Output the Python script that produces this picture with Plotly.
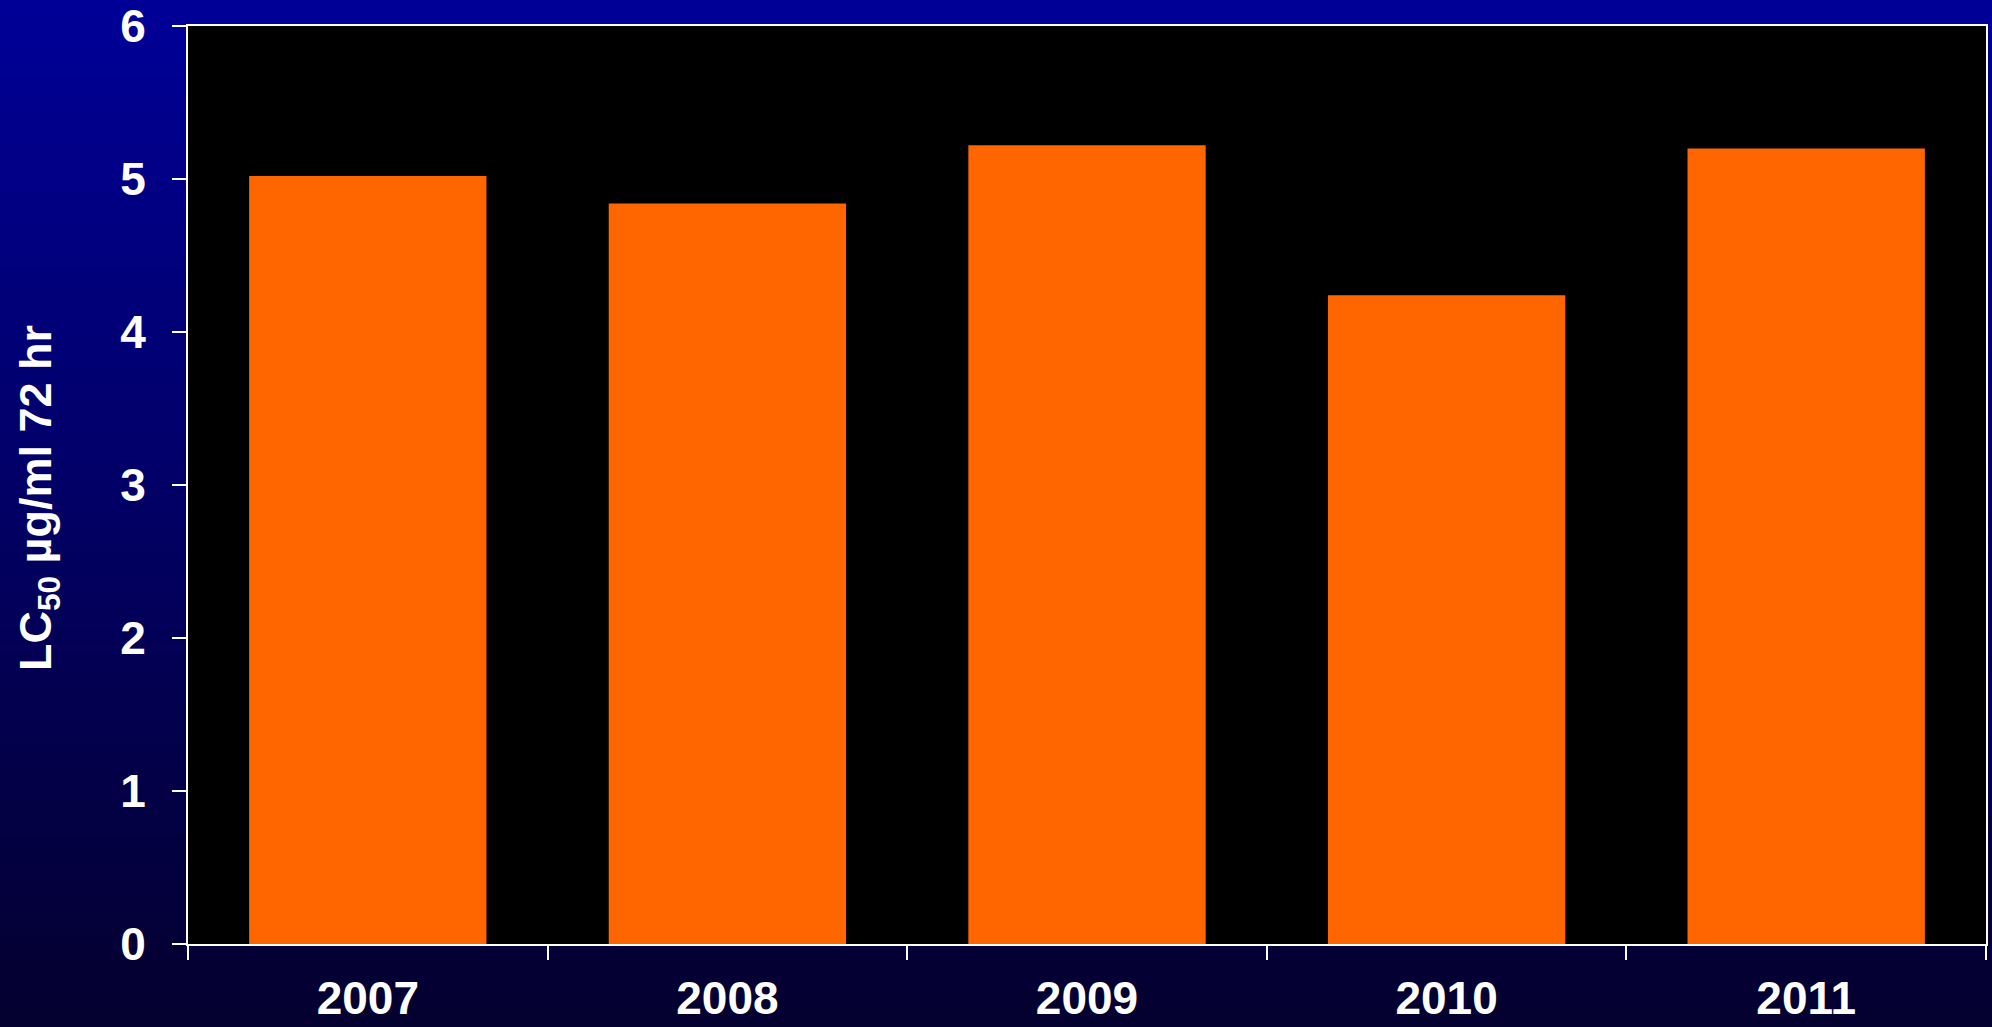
import plotly.graph_objects as go

years = ["2007", "2008", "2009", "2010", "2011"]
lc50 = [5.02, 4.84, 5.22, 4.24, 5.20]
y_ticks = [0, 1, 2, 3, 4, 5, 6]
y_title = "LC<sub>50</sub> µg/ml 72 hr"

W, H = 1992, 1027
ML, MR, MT, MB = 188, 6, 26, 83
plot_h = H - MT - MB
plot_w = W - ML - MR

fig = go.Figure(go.Bar(x=years, y=lc50, marker=dict(color="#FF6600", line=dict(width=0)),
                       width=0.66))

# vertical gradient background (blue to dark navy)
shapes = []
N = 80
top = (0, 0, 152)
bot = (4, 0, 46)
for i in range(N):
    py0 = H * i / N
    py1 = H * (i + 1) / N + 1
    t = (i + 0.5) / N
    c = tuple(round(top[k] + (bot[k] - top[k]) * t) for k in range(3))
    shapes.append(dict(type="rect", xref="paper", yref="paper", layer="below",
                       x0=-0.2, x1=1.2,
                       y0=(H - MB - py1) / plot_h, y1=(H - MB - py0) / plot_h,
                       fillcolor=f"rgb{c}", line=dict(width=0)))
shapes.append(dict(type="rect", xref="paper", yref="paper", layer="below",
                   x0=0, x1=1, y0=0, y1=1, fillcolor="black", line=dict(width=0)))

bold_font = dict(family="Liberation Sans, Arial, sans-serif", size=46,
                 color="white", weight="bold")

fig.update_layout(
    width=W, height=H,
    margin=dict(l=ML, r=MR, t=MT, b=MB),
    paper_bgcolor="rgb(0,0,100)",
    plot_bgcolor="rgba(0,0,0,0)",
    shapes=shapes,
    showlegend=False,
    bargap=0.34,
    font=dict(family="Liberation Sans, Arial, sans-serif", size=46, color="white"),
    xaxis=dict(
        type="category", tickson="boundaries", ticks="outside", ticklen=14,
        tickwidth=2, tickcolor="white", showline=True, linecolor="white",
        linewidth=2, mirror=True, showgrid=False, zeroline=False,
        tickfont=bold_font, ticklabelstandoff=13, automargin=False,
    ),
    yaxis=dict(
        range=[0, 6], tickvals=y_ticks, ticks="outside", ticklen=14,
        tickwidth=2, tickcolor="white", showline=True, linecolor="white",
        linewidth=2, mirror=True, showgrid=False, zeroline=False,
        tickfont=bold_font, ticklabelstandoff=17, automargin=False,
    ),
    annotations=[dict(
        text=y_title, textangle=-90, showarrow=False,
        xref="paper", yref="paper",
        x=(38 - ML) / plot_w, y=(H - MB - 498) / plot_h,
        xanchor="center", yanchor="middle",
        font=dict(family="Liberation Sans, Arial, sans-serif", size=45,
                  color="white", weight="bold"),
    )],
)

fig.write_html("out.html", config={"displayModeBar": False},
               post_script="document.body.style.margin='0';document.body.style.overflow='hidden';")
